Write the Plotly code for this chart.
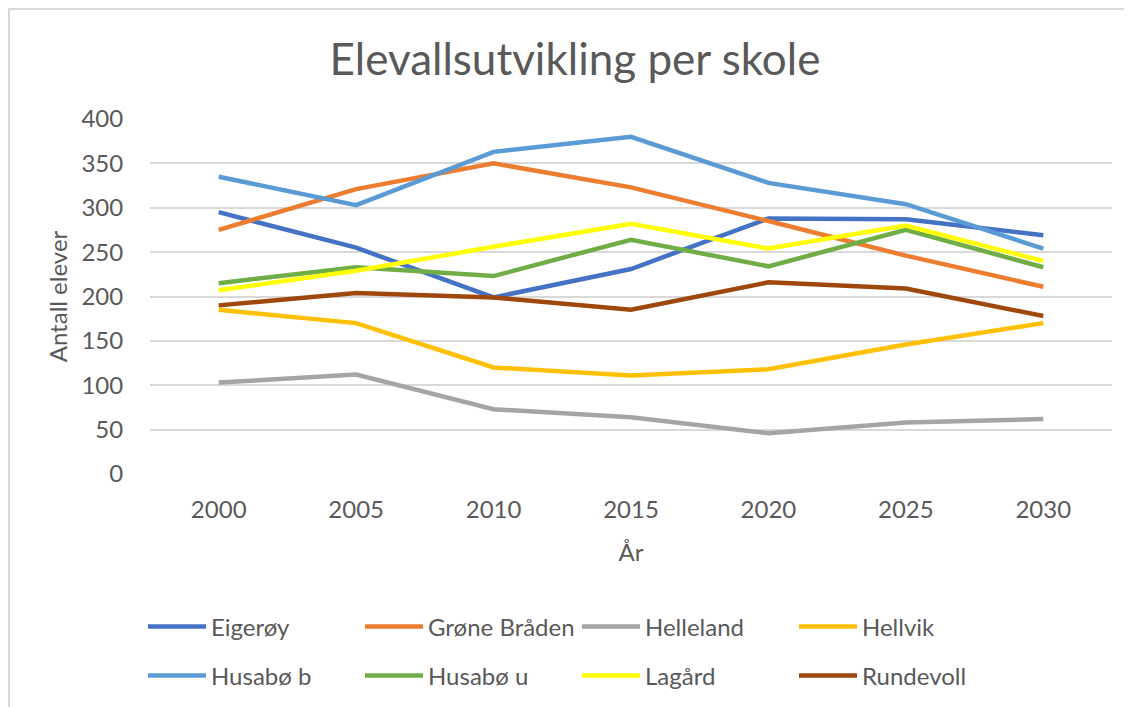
import plotly.graph_objects as go

years = [2000, 2005, 2010, 2015, 2020, 2025, 2030]
schools = ["Eigerøy", "Grøne Bråden", "Helleland", "Hellvik",
           "Husabø b", "Husabø u", "Lagård", "Rundevoll"]

eigeroy = [295, 255, 199, 231, 288, 287, 269]
grone_braden = [275, 321, 350, 323, 285, 246, 211]
helleland = [103, 112, 73, 64, 46, 58, 62]
hellvik = [185, 170, 120, 111, 118, 146, 170]
husabo_b = [335, 303, 363, 380, 328, 304, 254]
husabo_u = [215, 233, 223, 264, 234, 275, 233]
lagard = [207, 229, 256, 282, 254, 280, 240]
rundevoll = [190, 204, 199, 185, 216, 209, 178]

series = [eigeroy, grone_braden, helleland, hellvik,
          husabo_b, husabo_u, lagard, rundevoll]
colors = ["#4472C4", "#ED7D31", "#A5A5A5", "#FFC000",
          "#5B9BD5", "#70AD47", "#FFFF00", "#9E480E"]

FONT = "Lato"
GREY = "#595959"

fig = go.Figure()
for i, (name, vals, col) in enumerate(zip(schools, series, colors)):
    fig.add_trace(go.Scatter(
        x=years, y=vals, name=name, mode="lines",
        line=dict(color=col, width=4.5),
        legend="legend" if i < 4 else "legend2",
    ))

# page has an 8px body margin; work in page pixels and convert
OFF = 8
W, H = 1132 - OFF, 707 - OFF
L, T = 150 - OFF, 119 - OFF
pw = 1112 - 150
ph = 474 - 119
R = W - L - pw
B = H - T - ph

def px_x(p):
    return (p - OFF - L) / pw

def px_y(p):
    return (T + ph - (p - OFF)) / ph

leg_common = dict(orientation="h", xanchor="left", yanchor="middle",
                  entrywidth=144, entrywidthmode="pixels", traceorder="normal",
                  font=dict(size=24, color=GREY, family=FONT), itemwidth=58,
                  bgcolor="rgba(0,0,0,0)")

fig.update_layout(
    width=W, height=H,
    margin=dict(l=L, r=R, t=T, b=B, autoexpand=False),
    paper_bgcolor="white", plot_bgcolor="white",
    font=dict(family=FONT, color=GREY, size=24),
    title=dict(text="Elevallsutvikling per skole", x=(575 - OFF) / W, xref="container",
               xanchor="center", y=1 - (60 - OFF) / H, yref="container", yanchor="middle",
               font=dict(size=44, color=GREY, family=FONT)),
    xaxis=dict(range=[1997.5, 2032.5], tickvals=years, ticktext=[str(y) for y in years],
               showgrid=False, zeroline=False, showline=False,
               ticks="outside", ticklen=14, tickcolor="rgba(0,0,0,0)",
               tickfont=dict(size=24, color=GREY, family=FONT),
               title=dict(text="År", font=dict(size=24, color=GREY, family=FONT), standoff=22)),
    yaxis=dict(range=[0, 400], dtick=50, showgrid=True, gridcolor="#d9d9d9", gridwidth=1.5,
               zeroline=False, showline=False,
               ticks="outside", ticklen=21, tickcolor="rgba(0,0,0,0)",
               tickfont=dict(size=24, color=GREY, family=FONT),
               title=dict(text="Antall elever", font=dict(size=24, color=GREY, family=FONT), standoff=7)),
    legend=dict(x=px_x(143), y=px_y(627), **leg_common),
    legend2=dict(x=px_x(143), y=px_y(676), **leg_common),
    showlegend=True,
)

# thin grey chart-area border along the top and left edges
fig.add_shape(type="rect", xref="paper", yref="paper",
              x0=px_x(OFF + 1), y0=px_y(OFF + 1), x1=px_x(1200), y1=px_y(760),
              line=dict(color="#d9d9d9", width=2), fillcolor="rgba(0,0,0,0)", layer="below")

fig.write_html("out.html")
